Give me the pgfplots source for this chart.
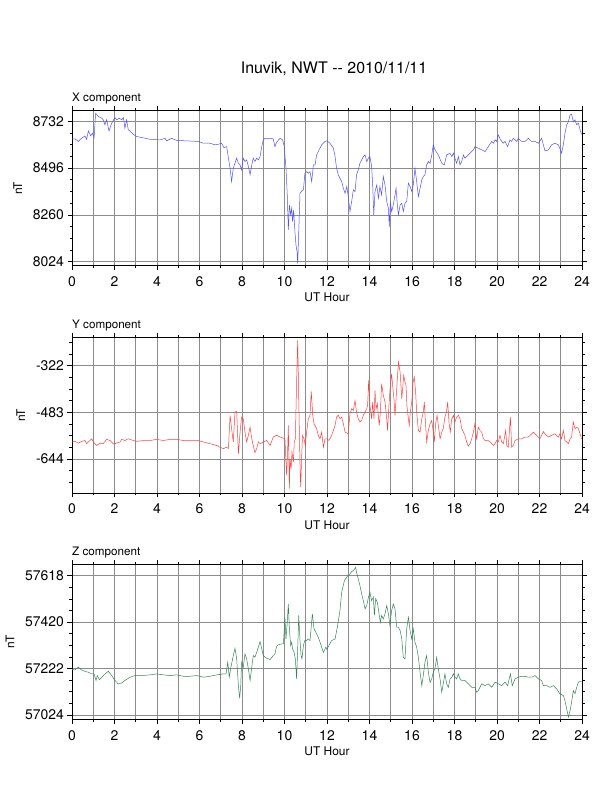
\documentclass[border=0pt]{standalone}
\usepackage{fontspec}
\setmainfont{TeX Gyre Heros}
\usepackage{pgfplots}
\pgfplotsset{compat=1.18}
\definecolor{xcol}{rgb}{0.32,0.32,1}
\definecolor{ycol}{rgb}{1,0.25,0.25}
\definecolor{zcol}{rgb}{0.2,0.52,0.34}
\definecolor{gridc}{rgb}{0.55,0.55,0.55}
\pgfplotsset{
  gmt/.style={
    width=510bp, height=155bp, scale only axis, anchor=south west,
    xmin=0, xmax=24, xtick={0,2,...,24}, minor xtick={1,3,...,23},
    xmajorgrids, xminorgrids, ymajorgrids,
    grid style={gridc, line width=0.6bp},
    minor grid style={gridc, line width=0.6bp},
    tick align=outside, major tick length=4.5bp, minor tick length=2.5bp,
    tick style={black, line width=0.6bp},
    axis line style={line width=0.8bp},
    every outer x axis line/.append style={line width=1.6bp},
    xlabel={UT Hour}, ylabel={nT},
    ticklabel style={font=\fontsize{14}{15}\selectfont},
    xticklabel style={yshift=-2.5bp},
    label style={font=\fontsize{12}{13}\selectfont},
    ylabel style={at={(ticklabel cs:0.5,4bp)}},
    /pgf/number format/assume math mode=true,
    /pgf/number format/1000 sep={},
    scaled y ticks=false,
  }
}
\begin{document}
\begin{tikzpicture}
\useasboundingbox (0,0) rectangle (612bp,792bp);
% ---------------- X component
\begin{axis}[gmt, name=px, at={(72bp,526.3bp)},
  ymin=8004, ymax=8785, ytick={8024,8260,8496,8732},
  minor ytick={8083,8142,8201,8319,8378,8437,8555,8614,8673}]
\addplot[xcol, line width=0.5bp] table {
0.00 8643
0.14 8643
0.30 8630
0.45 8646
0.61 8658
0.69 8641
0.77 8683
0.88 8658
0.96 8672
1.04 8650
1.11 8772
1.24 8756
1.40 8747
1.47 8739
1.55 8714
1.63 8739
1.74 8683
1.87 8722
2.02 8750
2.10 8739
2.23 8747
2.34 8739
2.42 8750
2.49 8697
2.57 8739
2.65 8688
2.73 8683
2.89 8666
3.04 8655
3.28 8650
3.67 8641
4.14 8638
4.38 8646
4.45 8633
4.69 8646
4.93 8635
5.40 8633
5.95 8630
6.18 8621
6.49 8621
6.73 8613
6.89 8616
7.04 8621
7.15 8599
7.28 8604
7.36 8546
7.44 8495
7.51 8428
7.59 8495
7.67 8520
7.75 8546
7.83 8520
7.91 8512
7.98 8487
8.06 8546
8.14 8529
8.22 8537
8.30 8504
8.38 8462
8.46 8512
8.53 8546
8.61 8529
8.69 8546
8.77 8537
8.85 8554
8.93 8604
9.00 8638
9.08 8646
9.32 8646
9.47 8643
9.55 8604
9.63 8626
9.79 8646
9.91 8638
9.99 8604
10.07 8495
10.13 8361
10.18 8184
10.23 8310
10.29 8260
10.34 8294
10.38 8226
10.43 8285
10.49 8176
10.54 8109
10.59 8075
10.62 8016
10.67 8176
10.73 8369
10.81 8381
10.89 8386
10.96 8470
11.04 8478
11.12 8470
11.20 8478
11.28 8428
11.36 8512
11.44 8512
11.51 8562
11.59 8579
11.75 8613
11.91 8630
12.00 8633
12.14 8621
12.30 8596
12.38 8554
12.45 8495
12.53 8462
12.61 8445
12.69 8428
12.77 8394
12.85 8369
12.93 8403
13.00 8352
13.08 8277
13.16 8327
13.24 8386
13.32 8378
13.39 8462
13.47 8487
13.55 8520
13.71 8554
13.79 8562
13.87 8529
13.95 8546
14.02 8554
14.10 8504
14.15 8411
14.20 8260
14.26 8378
14.34 8411
14.42 8344
14.49 8403
14.57 8361
14.65 8453
14.73 8411
14.81 8327
14.89 8294
14.93 8201
14.98 8327
15.04 8277
15.12 8310
15.20 8361
15.25 8394
15.31 8310
15.36 8260
15.44 8310
15.52 8319
15.59 8277
15.67 8319
15.75 8327
15.83 8420
15.91 8403
15.99 8378
16.06 8411
16.14 8495
16.22 8428
16.30 8352
16.38 8394
16.46 8436
16.53 8453
16.61 8462
16.69 8512
16.77 8529
16.85 8520
16.93 8562
17.00 8613
17.08 8588
17.24 8562
17.40 8520
17.52 8512
17.63 8562
17.79 8571
17.87 8554
17.95 8571
18.02 8546
18.10 8520
18.18 8554
18.26 8512
18.34 8529
18.42 8562
18.49 8546
18.57 8554
18.73 8571
18.89 8588
18.96 8604
19.12 8596
19.28 8588
19.44 8579
19.59 8604
19.75 8630
19.83 8621
19.91 8638
19.98 8630
20.06 8663
20.17 8638
20.30 8621
20.38 8630
20.50 8604
20.61 8638
20.69 8630
20.77 8646
20.93 8630
21.00 8646
21.16 8630
21.32 8630
21.48 8646
21.55 8638
21.63 8630
21.79 8630
21.95 8621
22.10 8646
22.18 8613
22.26 8582
22.42 8588
22.57 8613
22.73 8621
22.89 8613
22.98 8588
23.04 8571
23.12 8613
23.20 8672
23.28 8714
23.36 8730
23.44 8764
23.51 8767
23.59 8730
23.67 8739
23.75 8714
23.83 8722
23.91 8688
23.98 8666
};
\end{axis}
% ---------------- Y component
\begin{axis}[gmt, name=py, at={(72bp,299bp)}, height=155.7bp,
  ymin=-761, ymax=-224, ytick={-644,-483,-322},
  minor ytick={-724.5,-684.25,-603.75,-563.5,-523.25,-442.75,-402.5,-362.25,-281.75,-241.5}]
\addplot[ycol, line width=0.5bp] table {
0.00 -585
0.14 -583
0.30 -589
0.45 -583
0.61 -580
0.69 -591
0.77 -585
0.93 -574
1.00 -585
1.16 -597
1.32 -589
1.47 -591
1.63 -576
1.79 -580
1.95 -592
2.10 -589
2.26 -585
2.34 -576
2.49 -580
2.65 -574
2.89 -580
3.04 -583
3.36 -580
3.67 -580
3.98 -576
4.30 -580
4.61 -576
4.93 -576
5.24 -580
5.55 -580
5.95 -580
6.18 -585
6.49 -591
6.81 -597
6.96 -603
7.12 -608
7.28 -603
7.36 -608
7.44 -493
7.51 -539
7.59 -585
7.67 -482
7.75 -480
7.83 -626
7.91 -551
7.98 -499
8.06 -505
8.14 -551
8.22 -585
8.30 -562
8.38 -534
8.46 -574
8.53 -597
8.61 -622
8.69 -608
8.77 -585
8.85 -591
9.00 -585
9.16 -580
9.32 -597
9.47 -568
9.63 -562
9.79 -568
9.95 -572
10.02 -574
10.10 -700
10.15 -608
10.18 -528
10.23 -746
10.26 -643
10.31 -677
10.35 -620
10.42 -654
10.46 -585
10.51 -574
10.57 -378
10.62 -235
10.67 -436
10.73 -666
10.76 -741
10.81 -631
10.85 -562
10.92 -574
10.98 -597
11.04 -551
11.12 -505
11.20 -493
11.26 -411
11.33 -493
11.39 -522
11.51 -539
11.59 -562
11.67 -574
11.75 -551
11.83 -603
11.91 -574
12.00 -574
12.09 -580
12.22 -562
12.38 -528
12.45 -499
12.53 -493
12.61 -505
12.69 -499
12.77 -522
12.85 -551
13.00 -557
13.08 -488
13.16 -470
13.24 -476
13.32 -442
13.39 -482
13.47 -505
13.55 -516
13.63 -511
13.71 -493
13.79 -482
13.87 -470
13.91 -459
13.96 -373
14.02 -459
14.10 -505
14.15 -447
14.21 -505
14.26 -407
14.31 -470
14.37 -453
14.42 -499
14.46 -528
14.51 -482
14.57 -384
14.65 -424
14.73 -447
14.81 -505
14.85 -545
14.92 -453
14.98 -390
15.04 -350
15.11 -407
15.15 -436
15.20 -493
15.25 -436
15.31 -367
15.36 -309
15.44 -344
15.52 -436
15.56 -401
15.61 -355
15.67 -378
15.72 -390
15.76 -459
15.83 -505
15.87 -528
15.92 -482
15.99 -447
16.05 -378
16.11 -361
16.17 -413
16.22 -482
16.30 -545
16.38 -551
16.46 -505
16.53 -482
16.58 -447
16.61 -488
16.69 -585
16.77 -545
16.85 -522
16.93 -511
17.00 -551
17.05 -585
17.11 -522
17.18 -493
17.24 -528
17.32 -574
17.40 -551
17.47 -539
17.55 -499
17.62 -482
17.68 -447
17.74 -516
17.80 -551
17.87 -505
17.95 -493
18.02 -516
18.10 -499
18.18 -493
18.26 -505
18.34 -539
18.42 -551
18.49 -562
18.57 -585
18.65 -599
18.73 -591
18.81 -574
18.89 -551
18.96 -522
19.04 -574
19.12 -534
19.20 -545
19.28 -551
19.36 -574
19.44 -580
19.59 -580
19.75 -591
19.83 -597
19.91 -591
19.98 -580
20.06 -585
20.14 -562
20.22 -585
20.30 -591
20.38 -557
20.41 -545
20.46 -597
20.53 -603
20.63 -499
20.69 -603
20.77 -597
20.85 -580
21.00 -574
21.16 -574
21.32 -568
21.47 -568
21.63 -557
21.71 -551
21.79 -557
21.95 -568
22.02 -574
22.10 -562
22.18 -549
22.26 -557
22.42 -568
22.57 -562
22.73 -557
22.89 -568
22.96 -557
23.04 -574
23.12 -545
23.20 -580
23.28 -585
23.36 -591
23.44 -574
23.51 -568
23.59 -516
23.67 -539
23.75 -534
23.83 -539
23.91 -557
23.98 -574
};
\end{axis}
% ---------------- Z component
\begin{axis}[gmt, name=pz, at={(72bp,72.3bp)}, height=155.4bp,
  ymin=57004, ymax=57666, ytick={57024,57222,57420,57618},
  minor ytick={57073.5,57123,57172.5,57271.5,57321,57370.5,57469.5,57519,57568.5}]
\addplot[zcol, line width=0.5bp] table {
0.00 57218
0.14 57216
0.30 57228
0.45 57216
0.61 57210
0.77 57206
0.93 57199
1.04 57199
1.13 57171
1.19 57192
1.29 57175
1.40 57185
1.55 57199
1.71 57210
1.87 57192
2.02 57171
2.18 57156
2.34 57161
2.49 57171
2.73 57185
2.96 57192
3.28 57192
3.67 57195
3.98 57199
4.30 57195
4.61 57192
4.93 57195
5.24 57189
5.55 57189
5.87 57192
6.18 57185
6.49 57189
6.81 57195
7.12 57199
7.25 57199
7.33 57249
7.40 57185
7.48 57228
7.59 57277
7.67 57308
7.75 57263
7.83 57149
7.89 57095
7.94 57149
7.98 57249
8.06 57228
8.14 57284
8.22 57263
8.30 57220
8.38 57171
8.46 57228
8.53 57277
8.61 57270
8.69 57291
8.77 57313
8.85 57337
8.93 57306
9.00 57277
9.16 57266
9.32 57260
9.47 57277
9.55 57284
9.63 57317
9.71 57323
9.87 57327
9.95 57327
10.02 57440
10.07 57348
10.13 57419
10.18 57497
10.23 57391
10.29 57320
10.34 57334
10.38 57306
10.45 57291
10.51 57263
10.57 57178
10.62 57306
10.67 57448
10.73 57341
10.78 57277
10.82 57263
10.89 57320
10.95 57341
11.04 57341
11.12 57348
11.20 57341
11.31 57455
11.39 57391
11.51 57370
11.59 57355
11.70 57327
11.83 57291
11.95 57313
12.00 57303
12.09 57320
12.22 57341
12.38 57348
12.50 57405
12.61 57469
12.69 57547
12.82 57597
12.93 57611
13.00 57618
13.08 57625
13.16 57635
13.24 57639
13.35 57653
13.39 57632
13.47 57604
13.55 57575
13.63 57540
13.71 57511
13.79 57476
13.87 57490
13.95 57526
14.02 57547
14.10 57511
14.18 57526
14.23 57448
14.29 57519
14.37 57504
14.45 57455
14.51 57419
14.57 57448
14.65 57433
14.73 57455
14.81 57490
14.89 57455
14.96 57405
15.04 57469
15.12 57497
15.20 57476
15.28 57398
15.36 57398
15.44 57384
15.52 57348
15.59 57270
15.67 57263
15.75 57391
15.83 57440
15.91 57384
15.99 57348
16.06 57391
16.14 57334
16.22 57313
16.30 57270
16.38 57206
16.46 57149
16.53 57192
16.61 57249
16.69 57277
16.77 57206
16.85 57163
16.93 57178
17.00 57206
17.08 57220
17.16 57270
17.24 57220
17.32 57178
17.40 57121
17.47 57157
17.55 57199
17.63 57157
17.71 57142
17.79 57178
17.87 57185
17.95 57199
18.02 57185
18.10 57178
18.18 57199
18.26 57178
18.34 57171
18.49 57171
18.65 57157
18.81 57142
18.96 57142
19.04 57121
19.12 57128
19.28 57157
19.44 57149
19.59 57157
19.75 57142
19.91 57164
20.06 57157
20.22 57149
20.38 57164
20.50 57149
20.63 57199
20.72 57149
20.85 57178
21.00 57185
21.16 57189
21.32 57189
21.48 57185
21.63 57185
21.79 57192
21.95 57178
22.10 57171
22.18 57149
22.34 57149
22.49 57142
22.65 57149
22.81 57135
22.96 57114
23.12 57107
23.20 57085
23.28 57050
23.36 57015
23.44 57043
23.51 57078
23.59 57128
23.67 57114
23.75 57142
23.83 57164
23.91 57167
23.98 57167
};
\end{axis}
\node[anchor=base west, font=\fontsize{11.7}{13}\selectfont, inner sep=0pt] at ([yshift=9bp]px.north west) {X component};
\node[anchor=base west, font=\fontsize{11.7}{13}\selectfont, inner sep=0pt] at ([yshift=9bp]py.north west) {Y component};
\node[anchor=base west, font=\fontsize{11.7}{13}\selectfont, inner sep=0pt] at ([yshift=9bp]pz.north west) {Z component};
\node[anchor=base, font=\fontsize{16}{18}\selectfont, inner sep=0pt] at ([xshift=7bp,yshift=37.4bp]px.north) {Inuvik, NWT -{}- 2010/11/11};
\end{tikzpicture}
\end{document}
